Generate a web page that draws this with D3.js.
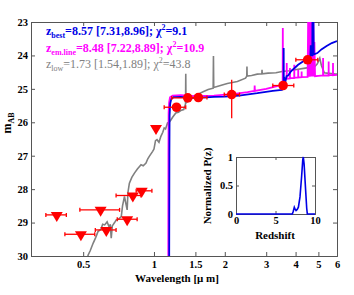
<!DOCTYPE html>
<html>
<head>
<meta charset="utf-8">
<script src="https://cdn.jsdelivr.net/npm/d3@7"></script>
<style>
body { margin: 0; background: #fff; }
svg { font-family: "Liberation Serif", "Times New Roman", serif; }
</style>
</head>
<body>
<div id="chart"></div>
<script>
// photometry: detections (wavelength in micron, AB mag)
const detLam = [1.247, 1.392, 1.544, 2.14, 3.54, 4.5];
const detMag = [25.55, 25.27, 25.26, 25.17, 24.90, 24.13];
const detLamLo = [1.105, 1.19, 1.40, 1.99, 3.2, 4.01];
const detLamHi = [1.365, 1.59, 1.68, 2.31, 3.93, 4.97];
const detMagUp = [0.05, 0.05, 0.05, 0.44, 0.06, 0.06];
const detMagDown = [0.05, 0.05, 0.05, 0.71, 0.06, 0.06];

// upper limits
const ulLam = [0.386, 0.489, 0.593, 0.627, 0.769, 0.813, 0.887, 1.02];
const ulMag = [28.77, 29.35, 28.62, 29.22, 28.90, 28.19, 28.05, 26.17];
const ulLamLo = [0.347, 0.418, 0.484, 0.563, 0.698, 0.69, 0.84, 1.0];
const ulLamHi = [0.424, 0.56, 0.714, 0.69, 0.848, 0.88, 0.98, 1.04];

// model spectra [wavelength, mag]
const bestFit = [[1.160, 31], [1.163, 27.0], [1.165, 25.8], [1.172, 25.45], [1.185, 25.3], [1.21, 25.25],
  [1.3, 25.24], [1.45, 25.27], [1.6, 25.26], [1.8, 25.24], [2.0, 25.23], [2.3, 25.2], [2.75, 25.13],
  [3.2, 25.06], [3.5, 25.03], [3.555, 25.0], [3.56, 23.78], [3.565, 24.9], [3.58, 24.85], [3.6, 24.7],
  [3.63, 24.75], [3.66, 24.62], [3.72, 24.6], [3.8, 24.5], [3.9, 24.42], [4.1, 24.28], [4.3, 24.18],
  [4.52, 24.08], [4.62, 24.02], [4.64, 23.7], [4.66, 24.0], [4.71, 24.0], [4.72, 22.5], [4.76, 22.5],
  [4.78, 23.97], [4.95, 23.93], [5.15, 23.82], [5.42, 23.72], [5.7, 23.63], [6.0, 23.57]];

const emLine = [[1.150, 31], [1.152, 27.0], [1.154, 25.7], [1.16, 25.4], [1.17, 25.25], [1.2, 25.2],
  [1.3, 25.19], [1.5, 25.22], [1.8, 25.2], [2.2, 25.15], [2.5, 25.1], [2.675, 25.06], [2.68, 24.9],
  [2.685, 25.06], [3.0, 25.0], [3.5, 24.88], [3.525, 24.87], [3.53, 23.18], [3.535, 24.82], [3.6, 24.72],
  [3.665, 24.7], [3.668, 24.23], [3.671, 24.7], [3.783, 24.69], [3.786, 24.38], [3.789, 24.68],
  [3.946, 24.68], [3.949, 24.28], [3.952, 24.67], [4.102, 24.66], [4.105, 24.43], [4.108, 24.66],
  [4.241, 24.65], [4.244, 24.48], [4.247, 24.65], [4.5, 24.64],
  [4.53, 22.5], [4.55, 24.64], [4.57, 22.5], [4.59, 24.64], [4.61, 22.5], [4.63, 24.63], [4.65, 22.5],
  [4.67, 24.63], [4.70, 22.5], [4.72, 24.63], [4.75, 22.5], [4.78, 24.63], [4.81, 23.6], [4.84, 24.62],
  [5.0, 24.61], [5.233, 24.6], [5.236, 24.08], [5.239, 24.6], [5.527, 24.6], [5.53, 24.18], [5.533, 24.59],
  [5.767, 24.59], [5.77, 24.23], [5.773, 24.59], [6.0, 24.58]];

const lowZ = [[0.51, 30.3], [0.525, 29.97], [0.535, 29.85], [0.551, 29.62], [0.565, 29.45], [0.578, 29.27],
  [0.595, 29.2], [0.605, 29.05], [0.617, 29.07], [0.632, 28.98], [0.648, 29.17], [0.652, 29.05],
  [0.658, 29.47], [0.665, 29.1], [0.68, 29.0], [0.691, 28.92], [0.705, 28.9], [0.726, 28.82], [0.735, 28.5],
  [0.749, 28.22], [0.758, 28.4], [0.769, 28.62], [0.775, 28.1], [0.786, 27.82], [0.805, 27.65],
  [0.826, 27.52], [0.85, 27.4], [0.881, 27.27], [0.9, 27.3], [0.925, 27.22], [0.94, 27.1], [0.955, 27.02],
  [0.987, 26.87], [1.0, 26.8], [1.015, 26.55], [1.03, 26.52], [1.05, 26.6], [1.07, 26.42], [1.09, 26.3],
  [1.105, 26.17], [1.12, 26.2], [1.142, 26.02], [1.16, 26.0], [1.18, 25.93], [1.2, 25.85], [1.238, 25.72],
  [1.27, 25.7], [1.3, 25.65], [1.338, 25.62], [1.362, 25.45], [1.365, 24.55], [1.368, 25.42], [1.4, 25.35],
  [1.433, 25.28], [1.5, 25.2], [1.55, 25.15], [1.626, 25.08], [1.7, 25.02], [1.785, 24.98], [1.79, 24.02],
  [1.795, 24.96], [1.918, 24.9], [2.05, 24.84], [2.262, 24.78], [2.45, 24.68], [2.48, 24.62], [2.485, 24.33],
  [2.49, 24.62], [2.6, 24.6], [2.748, 24.56], [2.875, 24.55], [2.88, 24.43], [2.885, 24.55], [3.058, 24.53],
  [3.3, 24.52], [3.504, 24.48], [3.75, 24.46], [3.976, 24.43], [4.4, 24.38], [4.83, 24.33], [4.95, 24.25],
  [5.07, 24.08], [5.15, 24.3], [5.3, 24.52], [5.43, 24.53], [5.92, 24.56], [6.0, 24.56]];

// redshift probability
const pzZ = [0, 7.0, 7.13, 7.25, 7.38, 7.5, 7.6, 7.75, 7.9, 8.1, 8.3, 8.45, 8.52, 8.62, 8.8, 8.95, 9.03, 10];
const pzP = [0, 0, 0, 0.05, 0.12, 0.08, 0.06, 0.08, 0.12, 0.3, 0.65, 0.95, 1.0, 0.88, 0.45, 0.1, 0, 0];

const xTicks = [0.5, 1, 1.5, 2, 3, 4, 5, 6];
const yTicks = [23, 24, 25, 26, 27, 28, 29, 30];

const W = 354, H = 295;
const blue = "#0000e6", magenta = "#ff00ff", grey = "#808080", red = "#ff0000";

const svg = d3.select("#chart").append("svg")
  .attr("width", W).attr("height", H);

const x = d3.scaleLog().domain([0.3, 6]).range([31, 337]);
const y = d3.scaleLinear().domain([23, 30]).range([22, 256]);

svg.append("clipPath").attr("id", "plotclip")
  .append("rect").attr("x", 31).attr("y", 22).attr("width", 306).attr("height", 234);

// axes with inward ticks on all four sides
function styleAxis(g) {
  g.selectAll("path").attr("stroke", "#555");
  g.selectAll("line").attr("stroke", "#555");
  g.selectAll("text").attr("font-size", 10.5).attr("font-weight", "bold").attr("fill", "#000")
    .attr("font-family", "Liberation Serif");
}
svg.append("g").attr("transform", "translate(0,256)")
  .call(d3.axisBottom(x).tickValues(xTicks).tickFormat(d3.format("~g")).tickSize(-4).tickPadding(5))
  .call(styleAxis);
svg.append("g").attr("transform", "translate(0,22)")
  .call(d3.axisTop(x).tickValues(xTicks).tickFormat("").tickSize(-4))
  .call(styleAxis);
svg.append("g").attr("transform", "translate(31,0)")
  .call(d3.axisLeft(y).tickValues(yTicks).tickFormat(d3.format("d")).tickSize(-4).tickPadding(3))
  .call(styleAxis);
svg.append("g").attr("transform", "translate(337,0)")
  .call(d3.axisRight(y).tickValues(yTicks).tickFormat("").tickSize(-4))
  .call(styleAxis);

// axis labels
svg.append("text").attr("x", 177).attr("y", 282).attr("text-anchor", "middle")
  .attr("font-size", 11).attr("font-weight", "bold").text("Wavelength [μ m]");
const ylab = svg.append("text").attr("transform", "translate(11,123) rotate(-90)")
  .attr("text-anchor", "middle").attr("font-size", 12).attr("font-weight", "bold");
ylab.append("tspan").text("m");
ylab.append("tspan").attr("font-size", 8).attr("dy", 3).text("AB");

// spectra
const line = d3.line().x(d => x(d[0])).y(d => y(d[1]));
const plot = svg.append("g").attr("clip-path", "url(#plotclip)");
plot.append("path").datum(lowZ).attr("d", line).attr("fill", "none")
  .attr("stroke", grey).attr("stroke-width", 1.6);
plot.append("path").datum(emLine).attr("d", line).attr("fill", "none")
  .attr("stroke", magenta).attr("stroke-width", 1.8);
plot.append("path").datum(bestFit).attr("d", line).attr("fill", "none")
  .attr("stroke", blue).attr("stroke-width", 1.8);

// error bars
const pts = plot.append("g").attr("stroke", red).attr("stroke-width", 1.3);
detLam.forEach((l, i) => {
  const cy = y(detMag[i]);
  pts.append("line").attr("x1", x(detLamLo[i])).attr("x2", x(detLamHi[i])).attr("y1", cy).attr("y2", cy);
  [detLamLo[i], detLamHi[i]].forEach(v =>
    pts.append("line").attr("x1", x(v)).attr("x2", x(v)).attr("y1", cy - 2).attr("y2", cy + 2));
  pts.append("line").attr("x1", x(l)).attr("x2", x(l))
    .attr("y1", y(detMag[i] - detMagUp[i])).attr("y2", y(detMag[i] + detMagDown[i]));
});
ulLam.forEach((l, i) => {
  const cy = y(ulMag[i]);
  pts.append("line").attr("x1", x(ulLamLo[i])).attr("x2", x(ulLamHi[i])).attr("y1", cy).attr("y2", cy);
  [ulLamLo[i], ulLamHi[i]].forEach(v =>
    pts.append("line").attr("x1", x(v)).attr("x2", x(v)).attr("y1", cy - 2).attr("y2", cy + 2));
});

// markers
plot.selectAll("circle.det").data(detLam).enter().append("circle")
  .attr("cx", d => x(d)).attr("cy", (d, i) => y(detMag[i])).attr("r", 4.8).attr("fill", red);
plot.selectAll("path.ul").data(ulLam).enter().append("path")
  .attr("d", (d, i) => {
    const cx = x(d), cy = y(ulMag[i]);
    return `M${cx - 6},${cy - 3}L${cx + 6},${cy - 3}L${cx},${cy + 7}Z`;
  })
  .attr("fill", red);

// legend text
function legendLine(yy, sub, rest, chi, col, weight) {
  const t = svg.append("text").attr("x", 46).attr("y", yy).attr("fill", col)
    .attr("font-size", 12).attr("font-weight", weight);
  t.append("tspan").text("z");
  t.append("tspan").attr("font-size", 8).attr("dy", 3).text(sub);
  t.append("tspan").attr("dy", -3).text(rest + "; χ");
  t.append("tspan").attr("font-size", 8).attr("dy", -5).text("2");
  t.append("tspan").attr("dy", 5).text("=" + chi);
}
legendLine(35, "best", "=8.57 [7.31,8.96]", "9.1", blue, "bold");
legendLine(52, "em.line", "=8.48 [7.22,8.89]", "10.9", magenta, "bold");
legendLine(68, "low", "=1.73 [1.54,1.89]", "43.8", grey, "normal");

// inset P(z)
const ix = d3.scaleLinear().domain([0, 10]).range([236, 315]);
const iy = d3.scaleLinear().domain([0, 1]).range([214, 157]);
svg.append("rect").attr("x", 236).attr("y", 157).attr("width", 79).attr("height", 57)
  .attr("fill", "#fff");
svg.append("g").attr("transform", "translate(0,214)")
  .call(d3.axisBottom(ix).tickValues([0, 5, 10]).tickFormat(d3.format("d")).tickSize(-3).tickPadding(3))
  .call(styleAxis);
svg.append("g").attr("transform", "translate(0,157)")
  .call(d3.axisTop(ix).tickValues([0, 5, 10]).tickFormat("").tickSize(-3))
  .call(styleAxis);
svg.append("g").attr("transform", "translate(236,0)")
  .call(d3.axisLeft(iy).tickValues([0, 0.5, 1]).tickFormat(d3.format("~g")).tickSize(-3).tickPadding(3))
  .call(styleAxis);
svg.append("g").attr("transform", "translate(315,0)")
  .call(d3.axisRight(iy).tickValues([0, 0.5, 1]).tickFormat("").tickSize(-3))
  .call(styleAxis);
svg.append("path").datum(pzZ.map((z, i) => [z, pzP[i]]))
  .attr("d", d3.line().x(d => ix(d[0])).y(d => iy(d[1])))
  .attr("fill", "none").attr("stroke", blue).attr("stroke-width", 1.6);
svg.append("text").attr("x", 275).attr("y", 239).attr("text-anchor", "middle")
  .attr("font-size", 11).attr("font-weight", "bold").text("Redshift");
svg.append("text").attr("transform", "translate(211,186) rotate(-90)").attr("text-anchor", "middle")
  .attr("font-size", 11).attr("font-weight", "bold").text("Normalized P(z)");
</script>
</body>
</html>
